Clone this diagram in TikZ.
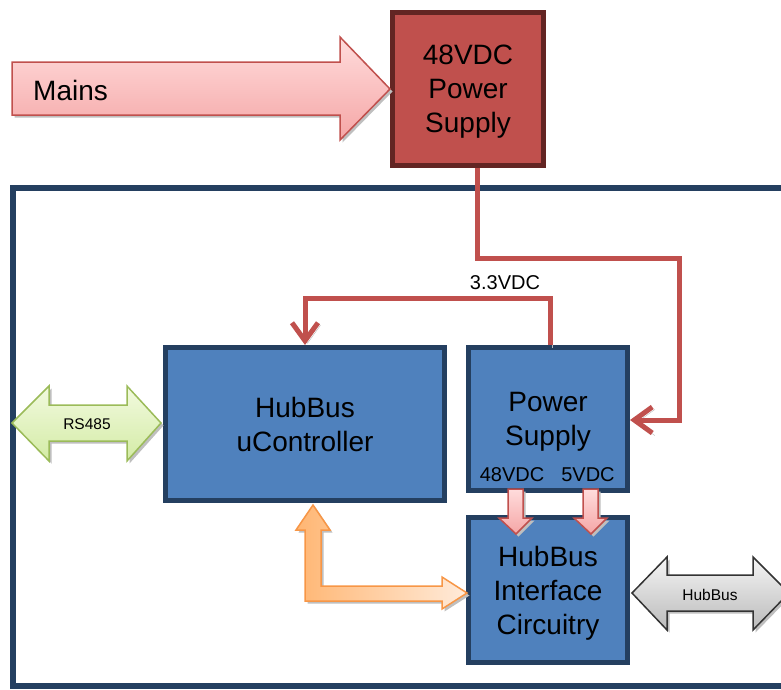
\documentclass[tikz,border=0pt]{standalone}
\usepackage{fontspec}
\setmainfont{Liberation Sans}
\usetikzlibrary{arrows.meta,calc}

\definecolor{boxblue}{HTML}{4F81BD}
\definecolor{boxnavy}{HTML}{243F60}
\definecolor{psured}{HTML}{C0504D}
\definecolor{psudark}{HTML}{632523}
\definecolor{pinklight}{HTML}{FFDCDC}
\definecolor{pinkdark}{HTML}{F5A6A6}
\definecolor{greenlight}{HTML}{F2FADF}
\definecolor{greendark}{HTML}{D3EBA5}
\definecolor{greenline}{HTML}{9BBB59}
\definecolor{orangedark}{HTML}{FFB673}
\definecolor{orangelight}{HTML}{FFEBDA}
\definecolor{orangeline}{HTML}{F79646}

\begin{document}
\begin{tikzpicture}[
    x=1pt, y=-1pt,
    shadowed/.style={preaction={draw=black!28, transform canvas={shift={(2.5pt,-2.5pt)}}}},
    fillshadow/.style={preaction={fill=black!25, transform canvas={shift={(2.5pt,-2.5pt)}}}},
    block/.style={rectangle, draw=boxnavy, fill=boxblue, line width=5pt, inner sep=0pt, align=center, text depth=0pt, font=\fontsize{28}{34}\selectfont},
    supply/.style={block, draw=psudark, fill=psured},
    wire/.style={draw=psured, line width=5pt, shadowed, -{Straight Barb[length=18pt,width=26pt]}},
    frame/.style={draw=boxnavy, line width=5.5pt},
    bigtext/.style={inner sep=0pt, font=\fontsize{28}{34}\selectfont},
    midtext/.style={inner sep=0pt, font=\fontsize{20}{24}\selectfont},
    smalltext/.style={inner sep=0pt, font=\fontsize{15.5}{18}\selectfont},
    mainsarrow/.style={draw=psured, line width=1.5pt, top color=pinklight, bottom color=pinkdark, fillshadow},
    feedarrow/.style={draw=psured, line width=1.5pt, top color=pinklight, bottom color=pinkdark, fillshadow},
    rsarrow/.style={draw=greenline, line width=1.5pt, top color=greenlight, bottom color=greendark, fillshadow},
    busarrow/.style={draw=black!80, line width=1.5pt, top color=black!4, bottom color=black!27, fillshadow},
    linkarrow/.style={draw=orangeline, line width=1.5pt, left color=orangedark, right color=orangelight, fillshadow}
]
\useasboundingbox (0,0) rectangle (781,689);
\clip (0,0) rectangle (781,689);

% Enclosure
\draw[frame] (800,188) -- (13,188) -- (13,686) -- (800,686);

% Blocks
\node[supply, minimum width=151pt, minimum height=153pt] (mainpsu) at (468,89) {48VDC\\Power\\Supply};
\node[block, minimum width=279pt, minimum height=153pt] (ctrl) at (305,424) {HubBus\\uController};
\node[block, minimum width=159pt, minimum height=143pt] (psu) at (548,419) {Power\\Supply};
\node[block, minimum width=159pt, minimum height=145pt] (iface) at (548,590) {HubBus\\Interface\\Circuitry};

% Supply rails
\coordinate (feedtop) at (679,258);
\coordinate (feedin) at (679,420);
\coordinate (rail) at (0,298);
\draw[wire] ([xshift=9pt]mainpsu.south) |- (feedtop) -- (feedin) -- (feedin -| psu.east);
\draw[wire] ([xshift=2pt]psu.north) |- (ctrl.north |- rail) -- (ctrl.north);
\node[midtext] (vlabel) at (505,283) {3.3VDC};

% Rails into the interface
\node[midtext] (hvlabel) at (512,475) {48VDC};
\node[midtext] (lvlabel) at (588,475) {5VDC};
\draw[feedarrow] (508,489) -- (523,489) -- (523,518) -- (532,518) -- (516,534) -- (499,518) -- (508,518) -- cycle;
\draw[feedarrow] (583,489) -- (598,489) -- (598,518) -- (607,518) -- (591,534) -- (574,518) -- (583,518) -- cycle;

% Mains input
\draw[mainsarrow] (12,62) -- (340,62) -- (340,37) -- (390,89) -- (340,140) -- (340,115) -- (12,115) -- cycle;
\node[bigtext, anchor=west] (mains) at (33,90) {Mains};

% RS485 port
\draw[rsarrow] (12,423) -- (49,386) -- (49,405) -- (127,405) -- (127,386) -- (161,423)
  -- (127,461) -- (127,441) -- (49,441) -- (49,461) -- cycle;
\node[smalltext] (rs) at (87,424) {RS485};

% HubBus port
\draw[busarrow] (632,593) -- (667,557) -- (667,575) -- (753,575) -- (753,557) -- (789,593)
  -- (753,630) -- (753,611) -- (667,611) -- (667,630) -- cycle;
\node[smalltext] (bus) at (710,595) {HubBus};

% Controller to interface link
\draw[linkarrow] (313,505) -- (330,530) -- (321,530) -- (321,586) -- (442,586) -- (442,577) -- (467,593)
  -- (442,609) -- (442,601) -- (305,601) -- (305,530) -- (296,530) -- cycle;

\end{tikzpicture}
\end{document}
